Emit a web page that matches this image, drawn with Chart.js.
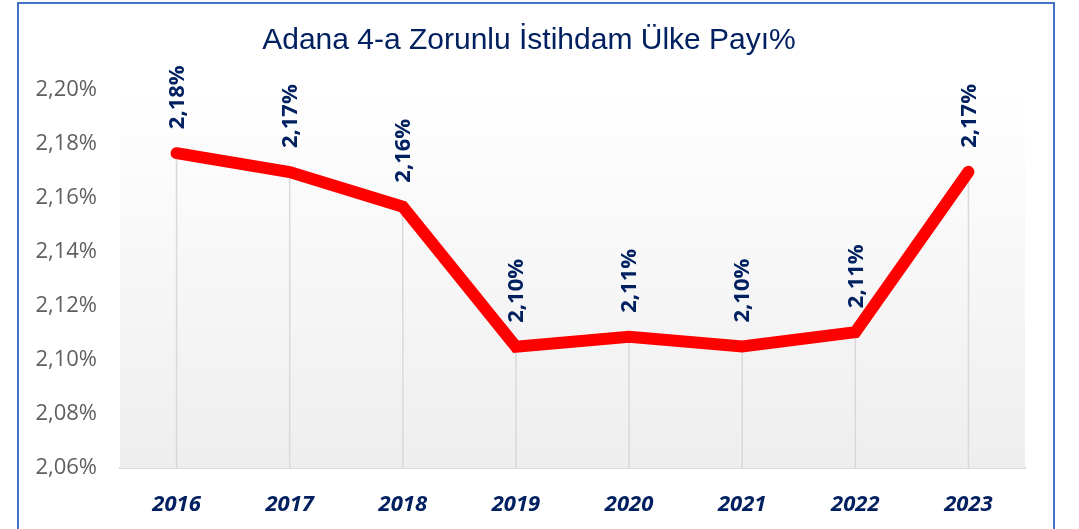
<!DOCTYPE html>
<html>
<head>
<meta charset="utf-8">
<script src="https://cdn.jsdelivr.net/npm/chart.js@4/dist/chart.umd.min.js"></script>
<style>
  html, body { margin: 0; padding: 0; background: #fff; overflow: hidden; }
  #wrap { position: relative; width: 1079px; height: 529px; }
  #frame {
    position: absolute; left: 17px; top: 2px; width: 1034px; height: 600px;
    border: 2px solid #4472C4; pointer-events: none;
  }
</style>
</head>
<body>
<div id="wrap">
  <canvas id="chart" width="1079" height="529"></canvas>
  <div id="frame"></div>
</div>
<script>
const years = ['2016', '2017', '2018', '2019', '2020', '2021', '2022', '2023'];
const shares = [2.1766, 2.1696, 2.1568, 2.1049, 2.1086, 2.1050, 2.1103, 2.1697];
const yTicks = [2.06, 2.08, 2.10, 2.12, 2.14, 2.16, 2.18, 2.20];

const pct = v => v.toFixed(2).replace('.', ',') + '%';

// plot area gradient + drop lines under the red line
const plotDecor = {
    id: 'plotDecor',
    beforeDatasetsDraw(chart) {
        const { ctx, chartArea } = chart;
        const g = ctx.createLinearGradient(0, chartArea.top, 0, chartArea.bottom);
        g.addColorStop(0, '#ffffff');
        g.addColorStop(1, '#eeeeee');
        ctx.save();
        ctx.fillStyle = g;
        ctx.fillRect(chartArea.left, chartArea.top, chartArea.right - chartArea.left, chartArea.bottom - chartArea.top);
        ctx.strokeStyle = '#d9d9d9';
        ctx.lineWidth = 1.5;
        chart.getDatasetMeta(0).data.forEach(pt => {
            ctx.beginPath();
            ctx.moveTo(pt.x, pt.y);
            ctx.lineTo(pt.x, chartArea.bottom);
            ctx.stroke();
        });
        ctx.restore();
    },
    afterDatasetsDraw(chart) {
        const { ctx } = chart;
        ctx.save();
        ctx.fillStyle = '#002060';
        ctx.font = 'bold 22px "Open Sans"';
        ctx.textAlign = 'left';
        ctx.textBaseline = 'middle';
        chart.getDatasetMeta(0).data.forEach((pt, i) => {
            ctx.save();
            ctx.translate(pt.x + 1, pt.y - 24);
            ctx.rotate(-Math.PI / 2);
            ctx.fillText(pct(shares[i]), 0, 0);
            ctx.restore();
        });
        ctx.restore();
    }
};

new Chart(document.getElementById('chart').getContext('2d'), {
    type: 'line',
    data: {
        labels: years,
        datasets: [{
            data: shares,
            borderColor: '#ff0000',
            borderWidth: 12,
            borderCapStyle: 'round',
            pointRadius: 0,
            tension: 0,
        }],
    },
    options: {
        responsive: false,
        animation: false,
        layout: { padding: { left: 33, right: 54, top: 0, bottom: 0 } },
        plugins: {
            legend: { display: false },
            tooltip: { enabled: false },
            title: {
                display: true,
                text: 'Adana 4-a Zorunlu İstihdam Ülke Payı%',
                color: '#002060',
                font: { family: '"Liberation Sans", Arial', size: 30, weight: 'normal' },
                padding: { top: 23, bottom: 31 },
            },
        },
        scales: {
            x: {
                offset: true,
                grid: { display: false },
                border: { display: true, color: '#d9d9d9', width: 2 },
                ticks: {
                    color: '#002060',
                    padding: 16,
                    font: { family: '"Open Sans"', size: 22, weight: 'bold', style: 'italic' },
                },
                afterFit: s => { s.height = 61; },
            },
            y: {
                min: 2.06,
                max: 2.20,
                grid: { display: false },
                border: { display: false },
                afterBuildTicks: s => { s.ticks = yTicks.map(v => ({ value: v })); },
                ticks: {
                    color: '#5f5f5f',
                    padding: 15,
                    font: { family: '"Open Sans"', size: 22 },
                    callback: v => pct(v),
                },
                afterFit: s => { s.width = 87; },
            },
        },
    },
    plugins: [plotDecor],
});
</script>
</body>
</html>
